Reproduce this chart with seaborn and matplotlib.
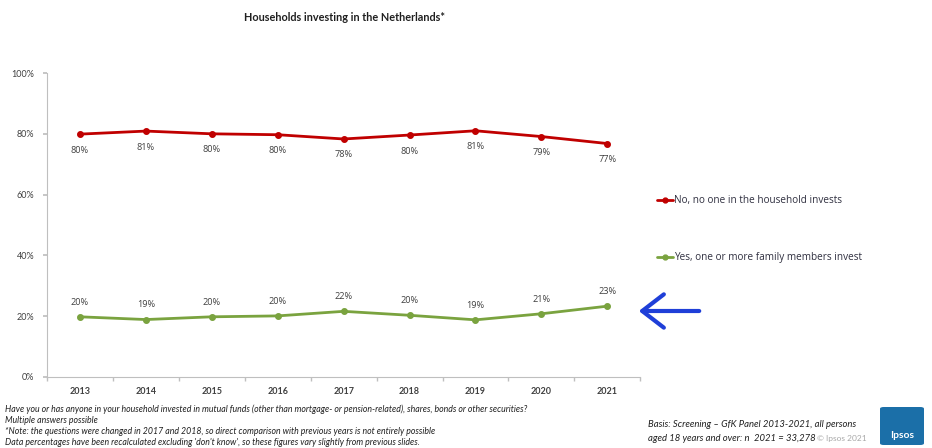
import matplotlib
matplotlib.use("Agg")
import matplotlib.pyplot as plt
import seaborn as sns
import pandas as pd
from matplotlib.patches import FancyBboxPatch
from matplotlib.lines import Line2D

years = ["2013", "2014", "2015", "2016", "2017", "2018", "2019", "2020", "2021"]
no_invest = [79.9, 80.9, 80.0, 79.7, 78.3, 79.6, 81.0, 79.1, 76.8]
yes_invest = [19.8, 18.9, 19.8, 20.1, 21.6, 20.3, 18.8, 20.8, 23.3]
no_labels = ["80%", "81%", "80%", "80%", "78%", "80%", "81%", "79%", "77%"]
yes_labels = ["20%", "19%", "20%", "20%", "22%", "20%", "19%", "21%", "23%"]
series_names = ["No, no one in the household invests", "Yes, one or more family members invest"]
yticks = [0, 20, 40, 60, 80, 100]
ytick_labels = ["0%", "20%", "40%", "60%", "80%", "100%"]

RED = "#c00000"
GREEN = "#7aa33f"
TXT = "#404040"

sns.set_theme(style="white")
plt.rcParams["font.family"] = ["Lato", "DejaVu Sans"]
OPEN = ["Open Sans", "DejaVu Sans"]

df = pd.DataFrame({
    "year": years * 2,
    "value": no_invest + yes_invest,
    "series": [series_names[0]] * len(years) + [series_names[1]] * len(years),
})

fig = plt.figure(figsize=(9.32, 4.48), dpi=100)
ax = fig.add_axes([0.0504, 0.1585, 0.6366, 0.6785])

sns.pointplot(data=df, x="year", y="value", hue="series", order=years,
              hue_order=series_names, palette=[RED, GREEN], markers="o",
              linestyles="-", markersize=3.5, linewidth=2.0, ax=ax, legend=False)

for i, (v, lab) in enumerate(zip(no_invest, no_labels)):
    ax.annotate(lab, (i, v), xytext=(0, -11.5), textcoords="offset points",
                ha="center", va="center", fontsize=6.6, color=TXT, family=OPEN)
for i, (v, lab) in enumerate(zip(yes_invest, yes_labels)):
    ax.annotate(lab, (i, v), xytext=(0, 10.5), textcoords="offset points",
                ha="center", va="center", fontsize=6.6, color=TXT, family=OPEN)

ax.set_ylim(0, 100)
ax.set_xlim(-0.5, len(years) - 0.5)
ax.set_yticks(yticks)
ax.set_yticklabels(ytick_labels)
ax.set_xticks(range(len(years)))
ax.set_xticklabels(years)
ax.set_xticks([k - 0.5 for k in range(len(years) + 1)], minor=True)
ax.tick_params(axis="x", which="major", length=0, labelsize=6.5, colors=TXT, pad=7)
ax.tick_params(axis="x", which="minor", length=3, color="#bfbfbf", bottom=True)
ax.tick_params(axis="y", which="major", length=3, color="#bfbfbf", left=True,
               labelsize=6.5, labelcolor=TXT, pad=6)
for lab in ax.get_xticklabels():
    lab.set_fontweight("bold")
ax.set_xlabel("")
ax.set_ylabel("")
for s in ["top", "right"]:
    ax.spines[s].set_visible(False)
for s in ["left", "bottom"]:
    ax.spines[s].set_color("#bfbfbf")
    ax.spines[s].set_linewidth(0.8)

handles = [Line2D([], [], color=RED, lw=2.0, marker="o", markersize=3.5),
           Line2D([], [], color=GREEN, lw=2.0, marker="o", markersize=3.5)]
fig.legend(handles, series_names, loc="upper left", bbox_to_anchor=(0.701, 0.573),
           frameon=False, labelcolor="#303040", handlelength=1.6,
           handletextpad=0.1, labelspacing=4.6, borderaxespad=0,
           prop={"family": OPEN, "size": 7.2})

fig.text(0.37, 0.96, "Households investing in the Netherlands*", ha="center",
         va="center", fontsize=7.8, fontweight="bold", color="#202020")

foot = ("Have you or has anyone in your household invested in mutual funds (other than mortgage- or pension-related), shares, bonds or other securities?\n"
        "Multiple answers possible\n"
        "*Note: the questions were changed in 2017 and 2018, so direct comparison with previous years is not entirely possible\n"
        "Data percentages have been recalculated excluding 'don't know', so these figures vary slightly from previous slides.")
fig.text(0.005, 0.098, foot, ha="left", va="top", fontsize=6.3, style="italic",
         color="#202020", linespacing=1.28)

fig.text(648 / 932, 1 - 424 / 448, "Basis: Screening \u2013 GfK Panel 2013-2021, all persons",
         ha="left", va="center", fontsize=6.8, style="italic", color="#202020")
t2 = fig.text(648 / 932, 1 - 438 / 448, "aged 18 years and over: n  2021 = 33,278",
              ha="left", va="center", fontsize=6.8, style="italic", color="#202020")
fig.canvas.draw()
bb = t2.get_window_extent()
fig.text((bb.x1 + 1) / 932, 1 - 438 / 448, "\u00a9 Ipsos 2021", ha="left",
         va="center", fontsize=6.0, color="#a8a8a8")

logo = FancyBboxPatch((880 / 932, 3 / 448), 44 / 932, 38 / 448,
                      boxstyle="round,pad=0,rounding_size=0.004",
                      transform=fig.transFigure, facecolor="#1b6fa8",
                      edgecolor="none")
fig.add_artist(logo)
fig.text(902 / 932, 13 / 448, "Ipsos", ha="center", va="center", fontsize=7.5,
         fontweight="bold", color="white")

ax.annotate("", xy=(636, 137), xytext=(702, 137), xycoords="figure pixels",
            textcoords="figure pixels", annotation_clip=False,
            arrowprops=dict(arrowstyle="->,head_length=1.3,head_width=1.0",
                            color="#1f3fd8", lw=3, capstyle="round"))

fig.savefig("out.png", dpi=100)
